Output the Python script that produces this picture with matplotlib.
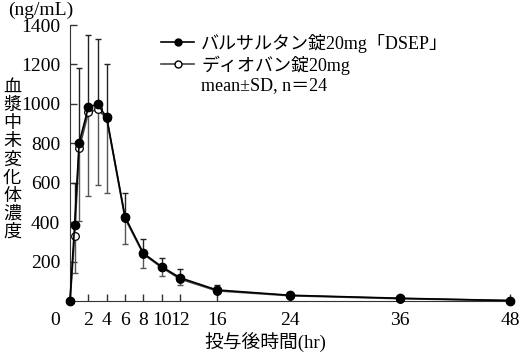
import matplotlib
matplotlib.use("Agg")
import matplotlib.pyplot as plt
import matplotlib.transforms as mtransforms
from matplotlib.lines import Line2D
import numpy as np

# ---- data ----
time_h = [0, 0.5, 1, 2, 3, 4, 6, 8, 10, 12, 16, 24, 36, 48]
dsep_mean = [0, 385, 803, 982, 999, 931, 427, 242, 174, 118, 56, 29, 14, 2]
diovan_mean = [0, 330, 774, 957, 972, 928, 420, 238, 170, 112, 52, 27, 12, 2]
dsep_sd = [0, 215, 377, 367, 328, 271, 122, 71, 43, 43, 25, 0, 0, 0]
diovan_sd = [0, 190, 369, 425, 384, 379, 132, 69, 43, 31, 12, 0, 0, 0]
xtick_vals = [0, 2, 4, 6, 8, 10, 12, 16, 24, 36, 48]
ytick_vals = [200, 400, 600, 800, 1000, 1200, 1400]
label_dsep = "バルサルタン錠20mg「DSEP」"
label_diovan = "ディオバン錠20mg"
label_stats = "mean±SD, n＝24"
ylabel_text = "血漿中未変化体濃度"
xlabel_text = "投与後時間(hr)"
unit_text = "(ng/mL)"

FAM = ["Liberation Serif", "Noto Sans CJK JP", "DejaVu Sans"]
plt.rcParams["font.family"] = FAM

W, H = 523, 356
fig = plt.figure(figsize=(W / 100, H / 100), dpi=100)
ax = fig.add_axes([70 / W, 1 - 301 / H, (513 - 70) / W, (301 - 25) / H])

zeros = np.zeros(len(time_h))
# error bars: DSEP upward, Diovan downward
ax.errorbar(time_h, dsep_mean, yerr=[zeros, dsep_sd], fmt="none",
            ecolor="#222222", elinewidth=1.0, capsize=2.5, capthick=1.0, zorder=2)
ax.errorbar(time_h, diovan_mean, yerr=[diovan_sd, zeros], fmt="none",
            ecolor="#555555", elinewidth=1.0, capsize=2.5, capthick=1.0, zorder=2)

ax.plot(time_h, diovan_mean, color="#444444", lw=1.3, marker="o", ms=5.5,
        mfc="white", mec="black", mew=0.9, zorder=3, clip_on=False)
ax.plot(time_h, dsep_mean, color="black", lw=1.2, marker="o", ms=6,
        mfc="black", mec="black", zorder=4, clip_on=False)

ax.set_xlim(0, 48.3)
ax.set_ylim(0, 1400)
ax.spines["top"].set_visible(False)
ax.spines["right"].set_visible(False)
ax.spines["left"].set_color("#333333")
ax.spines["bottom"].set_color("#333333")
ax.set_xticks(xtick_vals)
ax.set_xticklabels([str(v) for v in xtick_vals])
ax.set_yticks(ytick_vals)
ax.set_yticklabels([str(v) for v in ytick_vals])
ax.tick_params(axis="both", direction="in", length=5, width=1.0, color="#333333",
               labelsize=14, pad=7)
ax.tick_params(axis="x", pad=8)

# shift the "0" label to the left as in the reference
offset = mtransforms.ScaledTranslation(-15 / 100, 0, fig.dpi_scale_trans)
lbl0 = ax.get_xticklabels()[0]
lbl0.set_transform(lbl0.get_transform() + offset)

handles = [
    Line2D([], [], color="black", lw=1.2, marker="o", ms=5, mfc="black", mec="black"),
    Line2D([], [], color="#444444", lw=1.2, marker="o", ms=5, mfc="white", mec="black"),
    Line2D([], [], color="none"),
]
leg = ax.legend(handles, [label_dsep, label_diovan, label_stats], loc="upper left",
                bbox_to_anchor=(0.19, 0.995), frameon=False, fontsize=13,
                handlelength=1.8, handletextpad=0.4, labelspacing=0.15,
                borderaxespad=0)

fig.text(12 / W, 1 - 160 / H, "\n".join(ylabel_text), ha="center", va="center",
         fontsize=13, linespacing=1.08, family=FAM)
fig.text(8 / W, 1 - 10 / H, unit_text, ha="left", va="center", fontsize=14, family=FAM)
fig.text(265 / W, 1 - 343 / H, xlabel_text, ha="center", va="center", fontsize=13.5,
         family=FAM)

fig.savefig("out.png", dpi=100)
